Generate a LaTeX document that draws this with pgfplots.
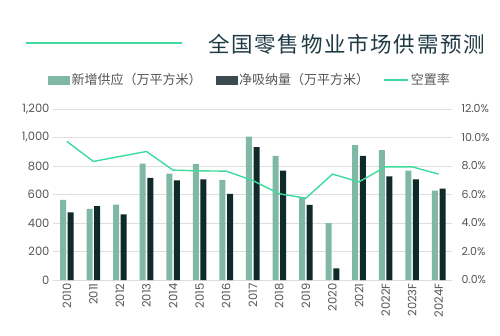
\documentclass[border=0pt]{standalone}
\usepackage{fontspec}
\usepackage{pgfplots}
\pgfplotsset{compat=1.18}
\setmainfont{Poppins}
\newfontfamily\cjk{Noto Sans CJK SC}
\newfontfamily\cjktitle[LetterSpace=8]{Noto Sans CJK SC}
\definecolor{lightbar}{HTML}{80B8A6}
\definecolor{darkbar}{HTML}{0E2A2A}
\definecolor{legdark}{HTML}{3A4A4E}
\definecolor{vline}{HTML}{3DDC9E}
\definecolor{titlec}{HTML}{1F3A44}
\definecolor{tickc}{HTML}{555555}
\definecolor{gridc}{HTML}{DDDDDD}
\begin{document}
\begin{tikzpicture}[x=1pt,y=1pt]
\path (0,0) rectangle (500,335);
\draw[vline, line width=1.6pt] (26,292) -- (182,292);
\node[anchor=west, inner sep=0pt, text=titlec, font=\cjktitle\fontsize{21.5}{24}\selectfont] at (208,291) {全国零售物业市场供需预测};
\begin{axis}[
  at={(53pt,55pt)}, anchor=south west,
  scale only axis, width=399pt, height=171pt,
  xmin=-0.52, xmax=14.5,
  ymin=0, ymax=1200,
  ytick={0,200,...,1200},
  xtick={0,...,14},
  xticklabels={2010,2011,2012,2013,2014,2015,2016,2017,2018,2019,2020,2021,2022F,2023F,2024F},
  xticklabel style={rotate=90, anchor=east, font=\fontsize{11.5}{13}\selectfont, text=tickc},
  yticklabel style={font=\fontsize{11.5}{13}\selectfont, text=tickc},
  /pgf/number format/assume math mode=true,
  /pgf/number format/1000 sep={,},
  ymajorgrids, grid style={gridc, line width=0.8pt},
  axis line style={draw=none},
  axis x line*=bottom, axis y line*=left,
  major tick length=0pt,
  ybar, bar width=6pt,
]
\addplot[fill=lightbar, draw=none, bar shift=-3.8pt] coordinates {
(0,562) (1,499) (2,529) (3,817) (4,747) (5,815) (6,703) (7,1007) (8,871) (9,581) (10,400) (11,946) (12,911) (13,768) (14,628)};
\addplot[fill=darkbar, draw=none, bar shift=3.8pt] coordinates {
(0,475) (1,518) (2,461) (3,717) (4,700) (5,707) (6,604) (7,932) (8,768) (9,527) (10,82) (11,871) (12,728) (13,707) (14,642)};
\end{axis}
\begin{axis}[
  at={(53pt,55pt)}, anchor=south west,
  scale only axis, width=399pt, height=171pt,
  xmin=-0.52, xmax=14.5,
  ymin=0, ymax=12,
  ytick={0,2,...,12},
  axis y line*=right, axis x line=none,
  axis line style={draw=none},
  major tick length=0pt,
  yticklabel={\pgfmathprintnumber[fixed,fixed zerofill,precision=1]{\tick}\%},
  yticklabel style={font=\fontsize{11}{13}\selectfont, text=tickc, xshift=6pt},
  /pgf/number format/assume math mode=true,
  legend style={at={(0,1)}, anchor=west, xshift=-8pt, yshift=29pt, draw=none, fill=none,
    font=\cjk\fontsize{13}{15}\selectfont, text=tickc, legend columns=3,
    /tikz/every even column/.append style={column sep=12pt}},
]
\addlegendimage{legend image code/.code={\fill[lightbar] (0pt,-4pt) rectangle (21pt,4pt);}}
\addlegendentry{新增供应（万平方米）}
\addlegendimage{legend image code/.code={\fill[legdark] (0pt,-4pt) rectangle (21pt,4pt);}}
\addlegendentry{净吸纳量（万平方米）}
\addplot[vline, line width=1.4pt, mark=none, legend image code/.code={\draw[vline,line width=1.8pt] (0pt,0pt) -- (24pt,0pt);}] coordinates {
(0,9.73) (1,8.32) (2,8.67) (3,9.02) (4,7.71) (5,7.66) (6,7.64) (7,6.98) (8,6.05) (9,5.74) (10,7.43) (11,6.89) (12,7.94) (13,7.94) (14,7.43)};
\addlegendentry{空置率}
\end{axis}
\end{tikzpicture}
\end{document}
